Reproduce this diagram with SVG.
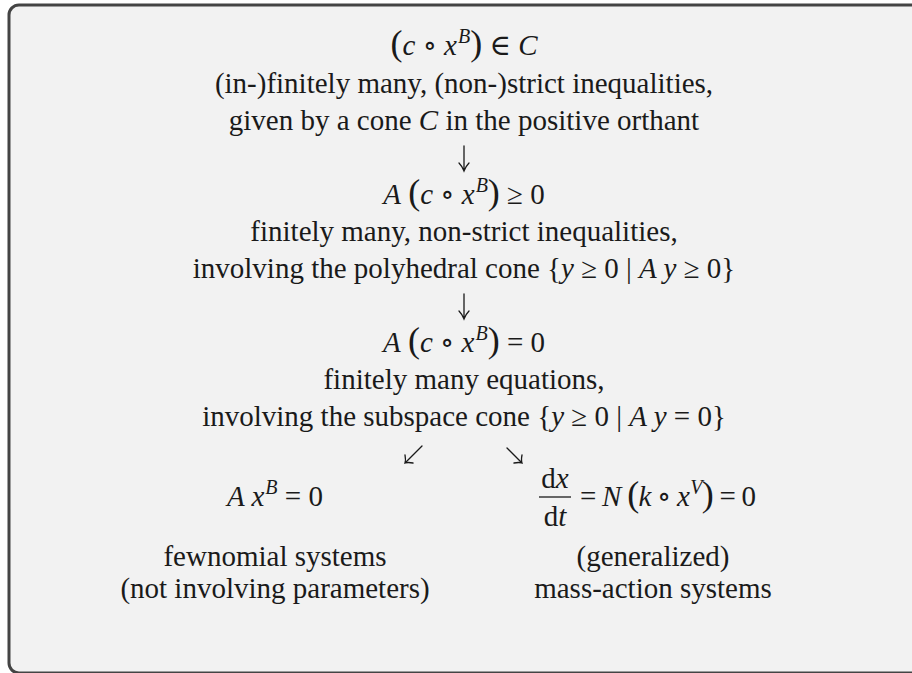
<svg xmlns="http://www.w3.org/2000/svg" width="912" height="673" viewBox="0 0 912 673">
<style>
text{font-family:"Liberation Serif","DejaVu Serif",serif;font-size:29px;fill:#1a1a1a}
.c{text-anchor:middle}
.i{font-style:italic}
.p{font-size:36px}
.s{font-size:20px;font-style:italic}
.arr{fill:none;stroke:#1a1a1a;stroke-width:1.3;stroke-linecap:round}
</style>
<rect id="frame" x="9" y="5" width="920" height="668" rx="10" ry="10" fill="#f2f2f2" stroke="#444" stroke-width="3"/>
<g id="n1">
<text class="c" x="464" y="55"><tspan class="p">(</tspan><tspan class="i">c</tspan> ∘ <tspan class="i">x</tspan><tspan class="s" dy="-12" dx="1">B</tspan><tspan class="p" dy="12">)</tspan> ∈ <tspan class="i">C</tspan></text>
<text class="c" x="464" y="93">(in-)finitely many, (non-)strict inequalities,</text>
<text class="c" x="464" y="130">given by a cone <tspan class="i">C</tspan> in the positive orthant</text>
</g>
<g id="n2">
<text class="c" x="464" y="204"><tspan class="i">A</tspan> <tspan class="p">(</tspan><tspan class="i">c</tspan> ∘ <tspan class="i">x</tspan><tspan class="s" dy="-12" dx="1">B</tspan><tspan class="p" dy="12">)</tspan> ≥ 0</text>
<text class="c" x="464" y="241">finitely many, non-strict inequalities,</text>
<text class="c" x="464" y="278">involving the polyhedral cone {<tspan class="i">y</tspan> ≥ 0 | <tspan class="i">A y</tspan> ≥ 0}</text>
</g>
<g id="n3">
<text class="c" x="464" y="352"><tspan class="i">A</tspan> <tspan class="p">(</tspan><tspan class="i">c</tspan> ∘ <tspan class="i">x</tspan><tspan class="s" dy="-12" dx="1">B</tspan><tspan class="p" dy="12">)</tspan> = 0</text>
<text class="c" x="464" y="389">finitely many equations,</text>
<text class="c" x="464" y="426">involving the subspace cone {<tspan class="i">y</tspan> ≥ 0 | <tspan class="i">A y</tspan> = 0}</text>
</g>
<g id="n4">
<text class="c" x="275" y="506"><tspan class="i">A x</tspan><tspan class="s" dy="-12" dx="1">B</tspan><tspan dy="12"> = 0</tspan></text>
<text class="c" x="275" y="566">fewnomial systems</text>
<text class="c" x="275" y="598">(not involving parameters)</text>
</g>
<g id="n5">
<text class="c" x="555" y="488">d<tspan class="i">x</tspan></text>
<line x1="539" y1="497" x2="571" y2="497" stroke="#1a1a1a" stroke-width="1.3"/>
<text class="c" x="555" y="526">d<tspan class="i">t</tspan></text>
<text x="580" y="506" textLength="176">= <tspan class="i">N</tspan> <tspan class="p">(</tspan><tspan class="i">k</tspan> ∘ <tspan class="i">x</tspan><tspan class="s" dy="-12" dx="1">V</tspan><tspan class="p" dy="12">)</tspan> = 0</text>
<text class="c" x="653" y="566">(generalized)</text>
<text class="c" x="653" y="598">mass-action systems</text>
</g>
<g id="connectors" class="arr">
<path d="M464 146 V170 M459 163 Q462 166 464 171 Q466 166 469 163"/>
<path d="M464 294 V318 M459 311 Q462 314 464 319 Q466 314 469 311"/>
<path d="M422 446 L405 463 M405 455 Q406 460 405 463 Q408 462 413 463"/>
<path d="M507 448 L522 463 M522 455 Q521 460 522 463 Q519 462 514 463"/>
</g>
</svg>
